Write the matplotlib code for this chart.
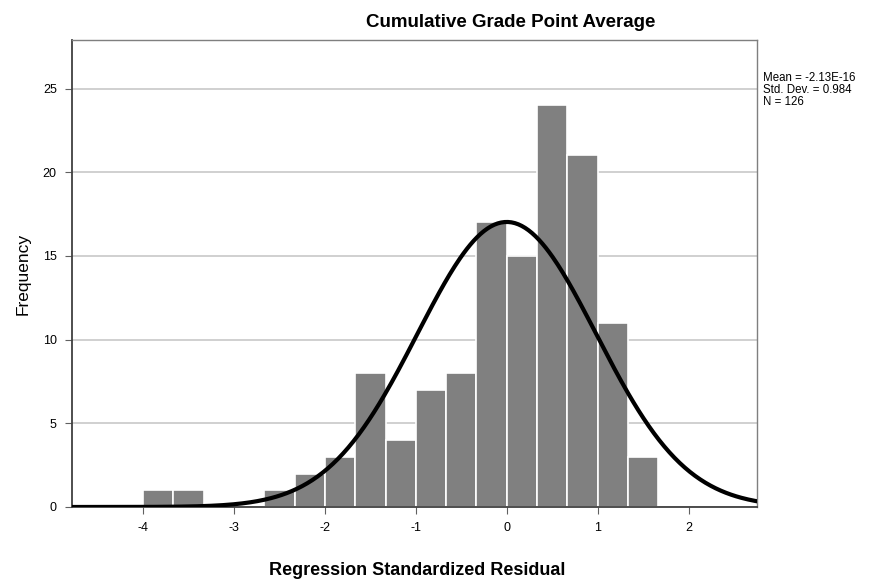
import numpy as np
import matplotlib
matplotlib.use("Agg")
import matplotlib.pyplot as plt

plt.rcParams['font.family'] = ['Liberation Sans', 'DejaVu Sans']

# histogram bins (width 1/3), left edges and counts
bin_left = [-4.0, -11/3, -8/3, -7/3, -2.0, -5/3, -4/3, -1.0, -2/3, -1/3, 0.0, 1/3, 2/3, 1.0, 4/3]
counts = [1, 1, 1, 2, 3, 8, 4, 7, 8, 17, 15, 24, 21, 11, 3]
bin_width = 1/3

mean = -2.13e-16
std_dev = 0.984
n_obs = 126

x_ticks = [-4, -3, -2, -1, 0, 1, 2]
y_ticks = [0, 5, 10, 15, 20, 25]

fig = plt.figure(figsize=(8.73, 5.87), dpi=100)
ax = fig.add_axes([0.0825, 0.1363, 0.7845, 0.7956])

ax.bar(bin_left, counts, width=bin_width, align='edge', color='#808080',
       edgecolor='white', linewidth=1.2, zorder=2)

xs = np.linspace(-4.78, 2.75, 400)
pdf = n_obs * bin_width / (std_dev * np.sqrt(2 * np.pi)) * np.exp(-0.5 * ((xs - mean) / std_dev) ** 2)
ax.plot(xs, pdf, color='black', linewidth=3, zorder=3)

ax.set_xlim(-4.78, 2.75)
ax.set_ylim(0, 27.9)
ax.set_xticks(x_ticks)
ax.set_xticklabels([str(t) for t in x_ticks], fontsize=9)
ax.set_yticks(y_ticks)
ax.set_yticklabels([str(t) for t in y_ticks], fontsize=9)
ax.yaxis.grid(True, color='#c8c8c8', linewidth=1.2, zorder=0)
ax.set_axisbelow(True)

for side in ['top', 'right']:
    ax.spines[side].set_color('#7f7f7f')
    ax.spines[side].set_linewidth(1)
for side in ['left', 'bottom']:
    ax.spines[side].set_color('#404040')
    ax.spines[side].set_linewidth(1.3)
ax.tick_params(axis='both', length=5, color='#606060', pad=6)

ax.set_ylabel('Frequency', fontsize=12.5, labelpad=9)
fig.text(0.478, 0.0135, 'Regression Standardized Residual', fontsize=13,
         fontweight='bold', ha='center', va='bottom')
fig.text(0.585, 0.948, 'Cumulative Grade Point Average', fontsize=13.5,
         fontweight='bold', ha='center', va='bottom')
fig.text(0.874, 0.878, 'Mean = -2.13E-16\nStd. Dev. = 0.984\nN = 126',
         fontsize=8.3, ha='left', va='top', linespacing=1.0)

fig.savefig('out.png', dpi=100)
